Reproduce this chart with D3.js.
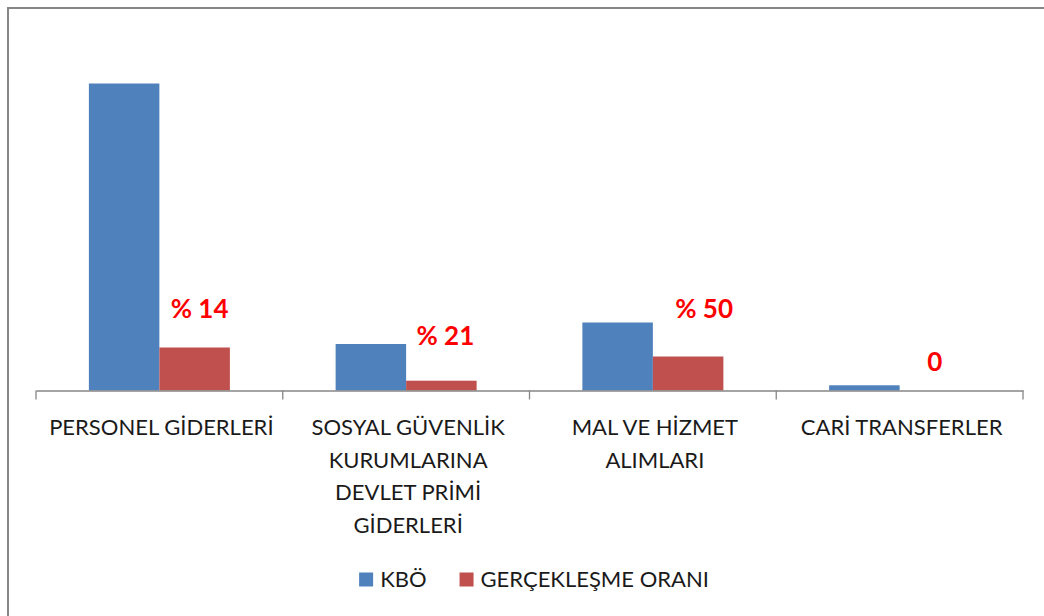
<!DOCTYPE html>
<html>
<head>
<meta charset="utf-8">
<script src="https://cdn.jsdelivr.net/npm/d3@7"></script>
<style>
    html, body { margin: 0; padding: 0; background: #fff; }
    svg { display: block; }
</style>
</head>
<body>
<svg id="chart"></svg>
<script>
// chart data
const categories = ['PERSONEL GİDERLERİ', 'SOSYAL GÜVENLİK KURUMLARINA DEVLET PRİMİ GİDERLERİ', 'MAL VE HİZMET ALIMLARI', 'CARİ TRANSFERLER'];
const tickLines = [
    ['PERSONEL GİDERLERİ'],
    ['SOSYAL GÜVENLİK', 'KURUMLARINA', 'DEVLET PRİMİ', 'GİDERLERİ'],
    ['MAL VE HİZMET', 'ALIMLARI'],
    ['CARİ TRANSFERLER']
];
const seriesNames = ['KBÖ', 'GERÇEKLEŞME ORANI'];
const kbo = [307, 46.5, 68, 5.2];
const gerceklesme = [43, 9.8, 34, 0];
const rateLabels = ['% 14', '% 21', '% 50', '0'];

// label nudges (layout only)
const labelDx = [5, 4, 16, 0];
const labelGap = [30, 36, 39, 20];

const width = 1044;
const height = 616;
const colors = ['#4F81BD', '#C0504D'];
const font = 'Lato, "Open Sans", sans-serif';

const svg = d3.select('#chart')
    .attr('width', width)
    .attr('height', height);

// outer frame (runs off right/bottom edge)
svg.append('rect')
    .attr('x', 8)
    .attr('y', 8)
    .attr('width', width + 20)
    .attr('height', height + 20)
    .attr('fill', '#fff')
    .attr('stroke', '#868686')
    .attr('stroke-width', 2);

const plot = { left: 36, right: 1023, top: 40.5, bottom: 390.5 };

const x0 = d3.scaleBand()
    .domain(categories)
    .range([plot.left, plot.right]);

const x1 = d3.scaleBand()
    .domain(seriesNames)
    .range([0, x0.bandwidth()])
    .paddingInner(0)
    .paddingOuter(0.75);

const y = d3.scaleLinear()
    .domain([0, 350])
    .range([plot.bottom, plot.top]);

const rows = categories.map((c, i) => ({
    category: c,
    values: [
        { series: seriesNames[0], value: kbo[i] },
        { series: seriesNames[1], value: gerceklesme[i] }
    ]
}));

const groups = svg.selectAll('.cat')
    .data(rows)
    .enter()
    .append('g')
    .attr('class', 'cat')
    .attr('transform', d => `translate(${x0(d.category)},0)`);

groups.selectAll('rect')
    .data(d => d.values)
    .enter()
    .append('rect')
    .attr('x', d => x1(d.series))
    .attr('width', x1.bandwidth())
    .attr('y', d => y(d.value))
    .attr('height', d => y(0) - y(d.value))
    .attr('fill', (d, i) => colors[i]);

// category axis
const axis = svg.append('g')
    .attr('transform', `translate(0,${plot.bottom})`)
    .call(d3.axisBottom(x0).tickSize(0).tickFormat(''));

axis.select('.domain')
    .attr('stroke', '#868686')
    .attr('stroke-width', 1.3);

// boundary tick marks between categories
const boundaries = categories.map(c => x0(c)).concat([x0.range()[1]]);
axis.selectAll('.bound')
    .data(boundaries)
    .enter()
    .append('line')
    .attr('x1', d => d)
    .attr('x2', d => d)
    .attr('y1', 0)
    .attr('y2', 9)
    .attr('stroke', '#868686')
    .attr('stroke-width', 1.3);

const tickText = svg.selectAll('.tick-label')
    .data(tickLines)
    .enter()
    .append('text')
    .attr('class', 'tick-label')
    .attr('x', (d, i) => x0(categories[i]) + x0.bandwidth() / 2 + 2)
    .attr('y', 435)
    .attr('text-anchor', 'middle')
    .style('font-family', font)
    .style('font-size', '22px')
    .style('fill', '#1a1a1a');

tickText.selectAll('tspan')
    .data(d => d)
    .enter()
    .append('tspan')
    .attr('x', function () { return d3.select(this.parentNode).attr('x'); })
    .attr('dy', (d, i) => i === 0 ? 0 : 32.5)
    .text(d => d);

// rate labels above the realisation bars
svg.selectAll('.rate')
    .data(rateLabels)
    .enter()
    .append('text')
    .attr('class', 'rate')
    .attr('x', (d, i) => x0(categories[i]) + x1(seriesNames[1]) + x1.bandwidth() / 2 + labelDx[i])
    .attr('y', (d, i) => y(gerceklesme[i]) - labelGap[i])
    .attr('text-anchor', 'middle')
    .style('font-family', font)
    .style('font-size', '26px')
    .style('font-weight', '700')
    .style('fill', '#FF0000')
    .text(d => d);

// legend
const legend = svg.append('g');
let lx = 0;
seriesNames.forEach((name, i) => {
    const item = legend.append('g').attr('transform', `translate(${lx},0)`);
    item.append('rect')
        .attr('x', 0)
        .attr('y', -14)
        .attr('width', 14)
        .attr('height', 14)
        .attr('fill', colors[i]);
    const t = item.append('text')
        .attr('x', 21)
        .attr('y', 0)
        .style('font-family', font)
        .style('font-size', '22px')
        .style('fill', '#1a1a1a')
        .text(name);
    lx += 21 + t.node().getComputedTextLength() + 33;
});
const legendWidth = lx - 33;
legend.attr('transform', `translate(${534 - legendWidth / 2},586.5)`);
</script>
</body>
</html>
